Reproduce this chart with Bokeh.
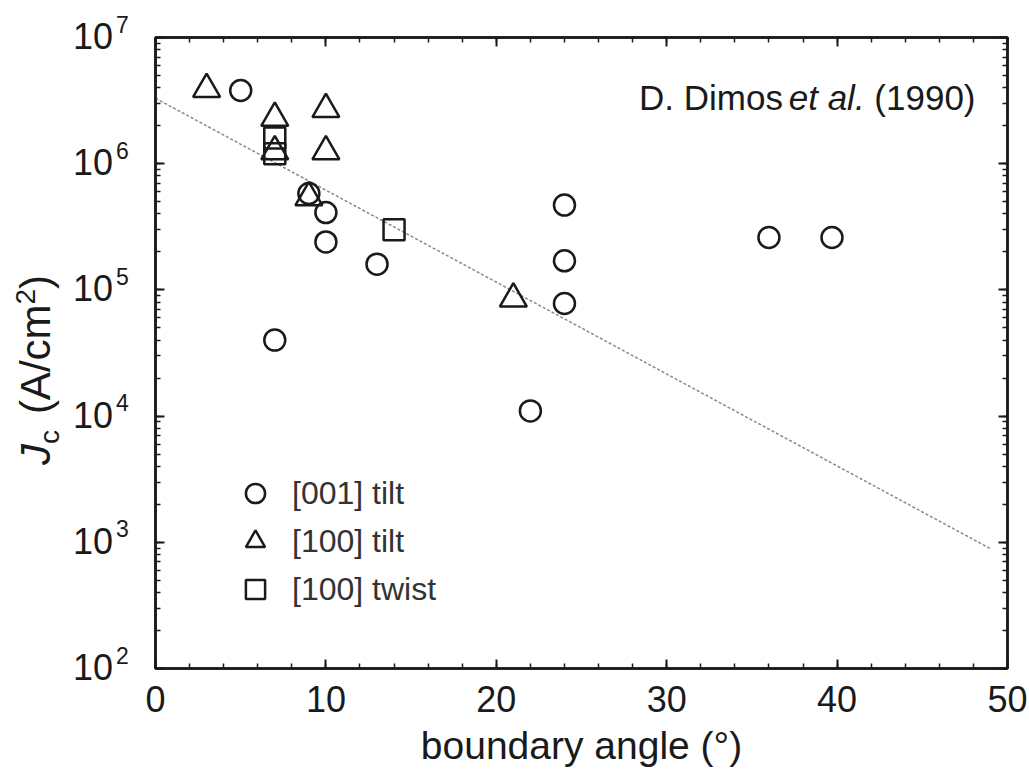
import numpy as np
from bokeh.plotting import figure
from bokeh.layouts import row
from bokeh.models import (Range1d, LinearAxis, LogAxis, SingleIntervalTicker, LogTicker,
                          Label, Legend, LegendItem, CustomJSTickFormatter, Div)
from bokeh.embed import file_html
from bokeh.resources import INLINE

# ---- data ----
tilt001_angle = [5, 7, 9, 10, 10, 13, 22, 24, 24, 24, 36, 39.7]
tilt001_jc = [3.8e6, 4.0e4, 5.8e5, 4.1e5, 2.4e5, 1.6e5, 1.1e4, 4.7e5, 1.7e5, 7.8e4, 2.6e5, 2.6e5]
tilt100_angle = [3, 7, 7, 9, 10, 10, 21]
tilt100_jc = [3.9e6, 2.3e6, 1.25e6, 5.4e5, 2.7e6, 1.25e6, 8.5e4]
twist100_angle = [7, 7, 14]
twist100_jc = [1.6e6, 1.2e6, 3.0e5]
fit_angle = [0, 49]
fit_jc = [3.3e6, 890]
x_ticks = [0, 10, 20, 30, 40, 50]
y_exponents = [2, 3, 4, 5, 6, 7]
legend_labels = ["[001] tilt", "[100] tilt", "[100] twist"]

FONT = "Liberation Sans"
INK = "#1a1a1a"

# page geometry (pixels)
W, H = 1029, 776
LW = 138                                 # left strip for y tick labels and y title
FL, FR, FT, FB = 155, 1007, 37, 668      # plot frame in page pixels
YMIN, YMAX = 1e2, 1e7
PX_PER_DEC = (FB - FT) / (np.log10(YMAX) - np.log10(YMIN))

# ---------------- main plot ----------------
p = figure(width=W - LW, height=H, output_backend="svg", toolbar_location=None,
           x_range=Range1d(0, 50), y_range=Range1d(YMIN, YMAX), y_axis_type="log",
           min_border_left=FL - LW, min_border_right=W - FR, min_border_top=FT,
           min_border_bottom=H - FB)
p.xgrid.visible = False
p.ygrid.visible = False
p.outline_line_color = INK
p.outline_line_width = 2.5
p.background_fill_color = "white"
p.border_fill_color = "white"


def style_axis(ax, show_labels):
    ax.axis_line_color = INK
    ax.axis_line_width = 2.5
    ax.major_tick_line_color = INK
    ax.major_tick_line_width = 2
    ax.minor_tick_line_color = INK
    ax.minor_tick_line_width = 1.5
    ax.major_tick_in = 9
    ax.major_tick_out = 0
    ax.minor_tick_in = 5
    ax.minor_tick_out = 0
    ax.major_label_text_font = FONT
    ax.major_label_text_color = INK
    if show_labels:
        ax.major_label_text_font_size = "36px"
    else:
        ax.major_label_text_font_size = "10px"
        ax.major_label_standoff = 0
        ax.formatter = CustomJSTickFormatter(code="return ''")


xa = p.xaxis[0]
xa.ticker = SingleIntervalTicker(interval=10, num_minor_ticks=5)
style_axis(xa, True)
xa.major_label_standoff = 17
xa.axis_label = "boundary angle (°)"
xa.axis_label_text_font = FONT
xa.axis_label_text_font_style = "normal"
xa.axis_label_text_font_size = "39px"
xa.axis_label_text_color = INK
xa.axis_label_standoff = 9

ya = p.yaxis[0]
ya.ticker = LogTicker(num_minor_ticks=10)
style_axis(ya, False)

top = LinearAxis(ticker=SingleIntervalTicker(interval=10, num_minor_ticks=5))
style_axis(top, False)
p.add_layout(top, "above")
right = LogAxis(ticker=LogTicker(num_minor_ticks=10))
style_axis(right, False)
p.add_layout(right, "right")

# fit line
p.line(fit_angle, fit_jc, line_color="#8a8a8a", line_width=1.5, line_dash="3 2")

mk = dict(fill_color=None, line_color=INK, line_width=2.5)
r1 = p.scatter(tilt001_angle, tilt001_jc, marker="circle", size=21, **mk)
r2 = p.scatter(tilt100_angle, tilt100_jc, marker="triangle", size=27, **mk)
r3 = p.scatter(twist100_angle, twist100_jc, marker="square", size=21, **mk)

legend = Legend(items=[LegendItem(label=legend_labels[0], renderers=[r1]),
                       LegendItem(label=legend_labels[1], renderers=[r2]),
                       LegendItem(label=legend_labels[2], renderers=[r3])],
                location=(75, 55), glyph_width=50, glyph_height=48, spacing=0,
                padding=0, margin=0, label_standoff=12,
                label_text_font=FONT, label_text_font_size="32px",
                label_text_color="#333333", border_line_color=None,
                background_fill_alpha=0)
p.add_layout(legend, "center")

# citation annotation (right-aligned, pieces)
ann_y = 10 ** (np.log10(YMAX) - (97 - FT) / PX_PER_DEC)
ann_x = (975 - FL) * 50 / (FR - FL)
fs = 35
w_year = 2.890 * fs
w_sp = 0.278 * fs
w_etal = 2.168 * fs
p.add_layout(Label(x=ann_x, y=ann_y, text="(1990)", text_font=FONT, text_font_size=f"{fs}px",
                   text_color=INK, text_align="right", text_baseline="middle"))
p.add_layout(Label(x=ann_x, y=ann_y, x_offset=-(w_year + w_sp), text="et al.", text_font=FONT,
                   text_font_size=f"{fs}px", text_font_style="italic",
                   text_color=INK, text_align="right", text_baseline="middle"))
p.add_layout(Label(x=ann_x, y=ann_y, x_offset=-(w_year + w_sp + w_etal + 0.6 * w_sp),
                   text="D. Dimos", text_font=FONT, text_font_size=f"{fs}px",
                   text_color=INK, text_align="right", text_baseline="middle"))

# ---------------- left strip (HTML): y tick labels and rotated y title ----------------
parts = []
for e in y_exponents:
    tick_py = FT + (np.log10(YMAX) - e) * PX_PER_DEC
    parts.append(
        f'<span style="position:absolute; right:{LW - 113}px; top:{tick_py - 18:.1f}px; '
        f'font-size:36px; line-height:36px;">10</span>')
    parts.append(
        f'<span style="position:absolute; left:116px; top:{tick_py - 23.5:.1f}px; '
        f'font-size:23px; line-height:23px;">{e}</span>')
parts.append(
    '<div style="position:absolute; left:38px; top:370px; white-space:nowrap; '
    'font-size:42px; line-height:42px; transform:translate(-50%,-50%) rotate(-90deg);">'
    '<i>J</i><span style="font-size:28px; position:relative; top:9px;">c</span>'
    '<span style="display:inline-block; width:16px;"></span>'
    '(A/cm<span style="font-size:28px; position:relative; top:-15px;">2</span>)</div>')
html = (f'<div style="position:relative; width:{LW}px; height:{H}px; '
        f'font-family:\'{FONT}\'; color:{INK}; background:white;">' + "".join(parts) + "</div>")
strip = Div(text=html, width=LW, height=H, margin=0)

layout = row(strip, p)
open("out.html", "w").write(file_html(layout, INLINE))
